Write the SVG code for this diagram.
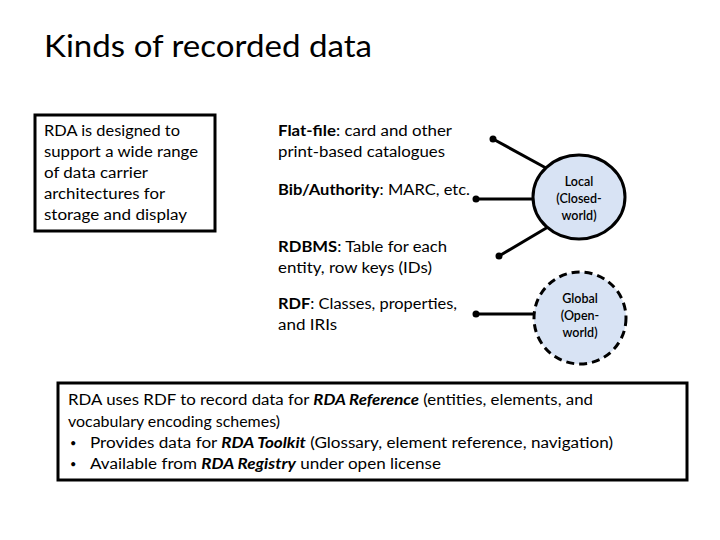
<svg xmlns="http://www.w3.org/2000/svg" width="720" height="540" viewBox="0 0 720 540">
<style>
text{font-family:Lato,"Open Sans","Liberation Sans",sans-serif;fill:#000}
.t{font-size:15.5px}
.b{font-weight:bold}
.bi{font-weight:bold;font-style:italic}
.c{font-size:12.5px;text-anchor:middle;font-weight:600}
.box{fill:#fff;stroke:#000;stroke-width:3}
.ln{stroke:#000;stroke-width:3;fill:none}
.dot{fill:#000}
.bul{font-size:11px}
</style>
<rect width="720" height="540" fill="#fff"/>
<g id="title"><text x="44" y="57" font-size="30" textLength="328" lengthAdjust="spacingAndGlyphs">Kinds of recorded data</text></g>
<g id="leftbox">
<rect class="box" x="35" y="115" width="180" height="116"/>
<text class="t" x="44" y="136" textLength="136" lengthAdjust="spacingAndGlyphs">RDA is designed to</text>
<text class="t" x="44" y="157" textLength="154" lengthAdjust="spacingAndGlyphs">support a wide range</text>
<text class="t" x="44" y="178" textLength="104" lengthAdjust="spacingAndGlyphs">of data carrier</text>
<text class="t" x="44" y="199" textLength="121" lengthAdjust="spacingAndGlyphs">architectures for</text>
<text class="t" x="44" y="220" textLength="143" lengthAdjust="spacingAndGlyphs">storage and display</text>
</g>
<g id="flatfile"><text class="t" x="278" y="136" textLength="174" lengthAdjust="spacingAndGlyphs"><tspan class="b">Flat-file</tspan>: card and other</text>
<text class="t" x="278" y="157" textLength="167" lengthAdjust="spacingAndGlyphs">print-based catalogues</text></g>
<g id="bib"><text class="t" x="278" y="195" textLength="192" lengthAdjust="spacingAndGlyphs"><tspan class="b">Bib/Authority</tspan>: MARC, etc.</text></g>
<g id="rdbms"><text class="t" x="278" y="252" textLength="169" lengthAdjust="spacingAndGlyphs"><tspan class="b">RDBMS</tspan>: Table for each</text>
<text class="t" x="278" y="273" textLength="154" lengthAdjust="spacingAndGlyphs">entity, row keys (IDs)</text></g>
<g id="rdf"><text class="t" x="278" y="309" textLength="179" lengthAdjust="spacingAndGlyphs"><tspan class="b">RDF</tspan>: Classes, properties,</text>
<text class="t" x="278" y="330" textLength="59" lengthAdjust="spacingAndGlyphs">and IRIs</text></g>
<g id="connectors">
<line class="ln" x1="493" y1="139" x2="546" y2="168"/>
<line class="ln" x1="476" y1="199" x2="533" y2="199"/>
<line class="ln" x1="499" y1="256" x2="548" y2="227"/>
<line class="ln" x1="476" y1="314" x2="533" y2="314"/>
<circle class="dot" cx="493" cy="139" r="3.5"/>
<circle class="dot" cx="476" cy="199" r="3.5"/>
<circle class="dot" cx="499" cy="256" r="3.5"/>
<circle class="dot" cx="476" cy="314" r="3.5"/>
</g>
<g id="local">
<ellipse cx="579" cy="197" rx="46" ry="42" fill="#d8e3f4" stroke="#000" stroke-width="3"/>
<text class="c" x="579" y="186">Local</text>
<text class="c" x="579" y="203">(Closed-</text>
<text class="c" x="579" y="220">world)</text>
</g>
<g id="global">
<ellipse cx="580" cy="318" rx="46" ry="46" fill="#d8e3f4" stroke="#000" stroke-width="3" stroke-dasharray="8,5"/>
<text class="c" x="580" y="303">Global</text>
<text class="c" x="580" y="320">(Open-</text>
<text class="c" x="580" y="337">world)</text>
</g>
<g id="bottombox">
<rect class="box" x="58" y="383" width="629" height="97"/>
<text class="t" x="68" y="405" textLength="525" lengthAdjust="spacingAndGlyphs">RDA uses RDF to record data for <tspan class="bi">RDA Reference</tspan> (entities, elements, and</text>
<text class="t" x="68" y="427" textLength="212" lengthAdjust="spacingAndGlyphs">vocabulary encoding schemes)</text>
<text class="t bul" x="70" y="447">•</text>
<text class="t" x="90" y="448" textLength="523" lengthAdjust="spacingAndGlyphs">Provides data for <tspan class="bi">RDA Toolkit</tspan> (Glossary, element reference, navigation)</text>
<text class="t bul" x="70" y="468">•</text>
<text class="t" x="90" y="469" textLength="351" lengthAdjust="spacingAndGlyphs">Available from <tspan class="bi">RDA Registry</tspan> under open license</text>
</g>
</svg>
